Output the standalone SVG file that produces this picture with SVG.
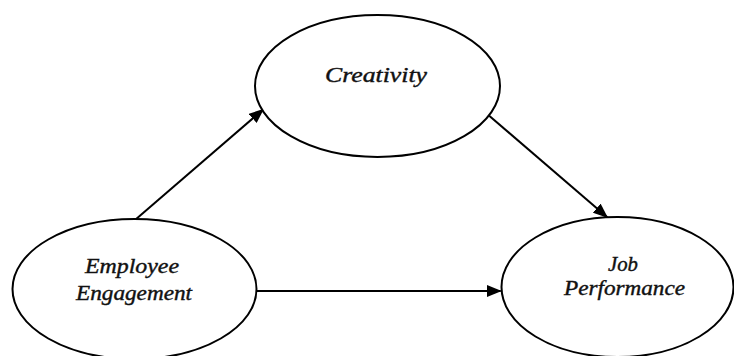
<svg xmlns="http://www.w3.org/2000/svg" width="734" height="356" viewBox="0 0 734 356">
<style>
.node ellipse{fill:#fff;stroke:#000;stroke-width:2}
.node text{font-family:"Liberation Serif","DejaVu Serif",serif;font-style:italic;font-size:21px;fill:#111;stroke:#111;stroke-width:0.4;text-anchor:middle}
.edge{stroke:#000;stroke-width:2;fill:none;marker-end:url(#ah)}
</style>
<defs>
<marker id="ah" viewBox="0 0 15 12" refX="14" refY="6" markerWidth="15" markerHeight="12" markerUnits="userSpaceOnUse" orient="auto">
<path d="M0,0 L15,6 L0,12 z" fill="#000"/>
</marker>
</defs>
<rect width="734" height="356" fill="#fff"/>
<g id="connectors">
<line class="edge" x1="135" y1="220" x2="263.3" y2="109.3"/>
<line class="edge" x1="488.3" y1="115" x2="607.3" y2="217.3"/>
<line class="edge" x1="256.5" y1="291" x2="500.7" y2="291"/>
</g>
<g id="creativity" class="node">
<ellipse cx="377.5" cy="86" rx="122.5" ry="71"/>
<text x="376" y="81.7" textLength="102" lengthAdjust="spacingAndGlyphs">Creativity</text>
</g>
<g id="employee-engagement" class="node">
<ellipse cx="134.5" cy="289" rx="122" ry="70"/>
<text x="132" y="272.7" textLength="94" lengthAdjust="spacingAndGlyphs">Employee</text>
<text x="134" y="300" textLength="116" lengthAdjust="spacingAndGlyphs">Engagement</text>
</g>
<g id="job-performance" class="node">
<ellipse cx="617.5" cy="287" rx="116" ry="70"/>
<text x="623" y="271" textLength="30" lengthAdjust="spacingAndGlyphs">Job</text>
<text x="624.5" y="295" textLength="121" lengthAdjust="spacingAndGlyphs">Performance</text>
</g>
</svg>
